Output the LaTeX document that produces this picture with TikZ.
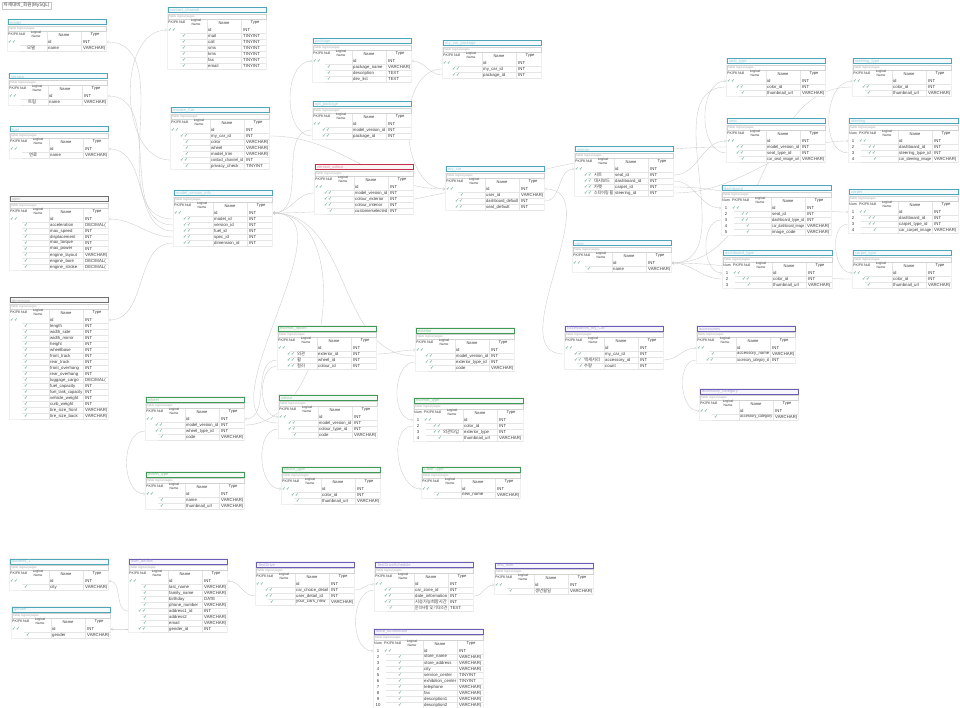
\documentclass[tikz,border=0pt]{standalone}
\usepackage{fontspec}
\setmainfont{Liberation Sans}
\newfontfamily\krfont{Noto Sans CJK KR}
\newfontfamily\symfont{DejaVu Sans}
\usetikzlibrary{arrows.meta}

\definecolor{erteal}{HTML}{4FA6BA}
\definecolor{ergray}{HTML}{6E6E6E}
\definecolor{erred}{HTML}{C0304A}
\definecolor{ergreen}{HTML}{3E9A55}
\definecolor{erpurple}{HTML}{6A5DB8}
\definecolor{ercheckc}{HTML}{2C8560}
\definecolor{ertext}{HTML}{3A3A3A}
\definecolor{erline}{HTML}{CBCBCB}

\pgfdeclarelayer{connectors}
\pgfdeclarelayer{paper}
\pgfsetlayers{connectors,paper,main}

\newcommand{\kr}[1]{{\krfont #1}}
\newsavebox{\erbox}
\newcommand{\erfit}[2]{\sbox\erbox{#2}\ifdim\wd\erbox>#1\resizebox{#1}{\height}{\usebox\erbox}\else\usebox\erbox\fi}

\tikzset{
  ercell/.style={anchor=west, inner sep=0pt, font=\fontsize{4.3}{5}\selectfont, text=ertext},
  erhead/.style={inner sep=0pt, font=\fontsize{4.1}{5}\selectfont, text=ertext},
  erkey/.style={anchor=west, inner sep=0pt, font=\fontsize{3.6}{4}\selectfont, text=ertext},
  erlogical/.style={inner sep=0pt, font=\fontsize{3.3}{3.4}\selectfont, text=ertext, align=center},
  erpages/.style={anchor=west, inner sep=0pt, font=\fontsize{3}{3}\selectfont, text=gray!70},
  ertitle/.style={anchor=west, inner sep=0pt, font=\fontsize{4}{5}\selectfont},
  ercheck/.style={anchor=west, inner sep=0pt, font=\symfont\fontsize{4.6}{4.6}\selectfont, text=ercheckc},
  ergrid/.style={draw=gray!20, line width=0.25pt},
  erbody/.style={inner sep=0pt, anchor=north west, fill=white, draw=gray!12, line width=0.25pt},
  fkline/.style={draw=erline, line width=0.35pt, -{Straight Barb[length=1.4pt,width=2.6pt]}}
}

% #1 name, #2 x, #3 y, #4 colour, #5 title, #6 numbered, #7 rows
\newcommand{\ertable}[7]{%
  \ifnum#6=1 \def\erN{10}\def\erW{110}\else\def\erN{0}\def\erW{99}\fi
  \draw[draw=#4, line width=1pt, fill=#4!6] (#2+1,#3+1) rectangle (#2+\erW,#3+6);
  \node[ertitle, text=#4!55!white] at (#2+3,#3+3.6) {#5};
  \draw[gray!35, line width=0.3pt] (#2+1,#3+7) rectangle (#2+\erW,#3+12.5);
  \node[erpages] at (#2+2,#3+9.8) {Table logical pages};
  \ifnum#6=1 \node[erkey] at (#2+1,#3+15.5) {Num};\fi
  \node[erkey] at (#2+1+\erN,#3+15.5) {PK/FK};
  \node[erkey] at (#2+11.8+\erN,#3+15.5) {Null};
  \node[erlogical] at (#2+29+\erN,#3+15.2) {Logical\\Name};
  \node[erhead] at (#2+57+\erN,#3+15.8) {Name};
  \node[erhead] at (#2+88+\erN,#3+15.8) {Type};
  \foreach \mk/\lg/\nm/\ty [count=\i] in {#7} {
    \pgfmathsetmacro\ry{#3+17+6*\i}
    \xdef\erRows{\i}
    \coordinate (#1 r\i) at (#2,\ry);
    \coordinate (#1 e\i) at (#2+\erW+1,\ry);
    \draw[ergrid] (#2+13,\ry+3) -- (#2+\erW,\ry+3);
    \ifnum#6=1 \node[ercell, anchor=center] at (#2+5,\ry) {\i};\fi
    \if p\mk \node[ercheck] at (#2+1+\erN,\ry) {✓✓};\fi
    \if f\mk \node[ercheck] at (#2+10+\erN,\ry) {✓✓};\fi
    \if n\mk \node[ercheck] at (#2+15+\erN,\ry) {✓};\fi
    \node[ercell] at (#2+\erN+20,\ry) {\erfit{19pt}{\lg}};
    \node[ercell] at (#2+\erN+41,\ry) {\erfit{32pt}{\nm}};
    \node[ercell] at (#2+\erN+76,\ry) {\ty};
  }
  \draw[ergrid] (#2+\erN+40,#3+13) -- (#2+\erN+40,#3+20+6*\erRows);
  \draw[ergrid] (#2+\erN+74,#3+13) -- (#2+\erN+74,#3+20+6*\erRows);
  \begin{pgfonlayer}{paper}
    \node[erbody, minimum width={\erW*1pt}, minimum height={(20+6*\erRows)*1pt}] (#1) at (#2,#3) {};
  \end{pgfonlayer}
}

\begin{document}
\catcode`\_=12
\begin{tikzpicture}[x=1pt,y=-1pt]
\useasboundingbox (0,0) rectangle (960,708);

\node[draw=gray!45, line width=0.3pt, inner xsep=1.5pt, inner ysep=1pt, anchor=north west,
  font=\krfont\fontsize{4.6}{5}\selectfont, text=ertext] (diagtitle) at (2,2) {차세대비_회원(MySQL)};

\ertable{tmodel}{7}{19}{erteal}{model}{0}{p//id/INT, x/\kr{모델}/name/VARCHAR(}
\ertable{tversion}{8}{73}{erteal}{version}{0}{p//id/INT, x/\kr{트림}/name/VARCHAR(}
\ertable{tfuel}{9}{126}{erteal}{fuel}{0}{p//id/INT, x/\kr{연료}/name/VARCHAR(}
\ertable{tspec}{9}{196}{ergray}{spec}{0}{p//id/INT, n//acceleration/DECIMAL(, n//max_speed/INT,
  n//displacement/INT, n//max_torque/INT, n//max_power/INT, n//engine_layout/VARCHAR(,
  n//engine_bore/DECIMAL(, n//engine_stroke/DECIMAL(}
\ertable{tdim}{9}{297}{ergray}{dimension}{0}{p//id/INT, n//length/INT, n//width_side/INT,
  n//width_mirror/INT, n//height/INT, n//wheelbase/INT, n//front_track/INT, n//rear_track/INT,
  n//front_overhang/INT, n//rear_overhang/INT, n//luggage_cargo/DECIMAL(, n//fuel_capacity/INT,
  n//fuel_tank_capacity/INT, n//vehicle_weight/INT, n//curb_weight/INT,
  n//tire_size_front/VARCHAR(, n//tire_size_back/VARCHAR(}

\ertable{tcontact}{167}{7}{erteal}{contact_channel}{0}{p//id/INT, n//mail/TINYINT, n//call/TINYINT,
  n//sms/TINYINT, n//kms/TINYINT, n//fax/TINYINT, n//email/TINYINT}
\ertable{tinvoice}{170}{107}{erteal}{Invoice_Car}{0}{p//id/INT, f//my_car_id/INT, n//color/VARCHAR(,
  n//wheel/VARCHAR(, n//model_trim/VARCHAR(, f//contact_channel_id/INT, n//privacy_check/TINYINT}
\ertable{tmvi}{173}{190}{erteal}{model_version_info}{0}{p//id/INT, f//model_id/INT, f//version_id/INT,
  f//fuel_id/INT, f//spec_id/INT, f//dimension_id/INT}

\ertable{tpackage}{312}{38}{erteal}{package}{0}{p//id/INT, n//package_name/VARCHAR(,
  n//description/TEXT, n//dev_list/TEXT}
\ertable{toptpkg}{312}{101}{erteal}{opt_package}{0}{p//id/INT, f//model_version_id/INT, f//package_id/INT}
\ertable{tvcolour}{314}{164}{erred}{version_colour}{0}{p//id/INT, f//model_version_id/INT,
  f//colour_exterior/INT, f//colour_interior/INT, n//customerselected/INT}
\ertable{tmypkg}{442}{40}{erteal}{my_car_package}{0}{p//id/INT, f//my_car_id/INT, f//package_id/INT}
\ertable{tmycar}{445}{166}{erteal}{my_car}{0}{p//id/INT, n//user_id/VARCHAR(,
  f//dashboard_default/INT, f//seat_default/INT}
\ertable{tinterior}{574}{146}{erteal}{interior}{0}{p//id/INT, f/\kr{시트}/seat_id/INT,
  f/\kr{대시보드}/dashboard_id/INT, f/\kr{카펫}/carpet_id/INT, f/\kr{스티어링 휠}/steering_id/INT}

\ertable{tseattype}{726}{58}{erteal}{seat_type}{0}{p//id/INT, f//color_id/INT, n//thumbnail_url/VARCHAR(}
\ertable{tsteertype}{852}{58}{erteal}{steering_type}{0}{p//id/INT, f//color_id/INT, n//thumbnail_url/VARCHAR(}
\ertable{tseat}{726}{118}{erteal}{seat}{0}{p//id/INT, f//model_version_id/INT, f//seat_type_id/INT,
  n//car_seat_image_url/VARCHAR(}
\ertable{tsteer}{848}{118}{erteal}{steering}{1}{p//id/INT, f//dashboard_id/INT, f//steering_type_id/INT,
  n//car_steering_image/VARCHAR(}
\ertable{tdash}{721}{185}{erteal}{dashboard}{1}{p//id/INT, f//seat_id/INT, f//dashboard_type_id/INT,
  n//car_dashboard_image/VARCHAR(, n//image_code/VARCHAR(}
\ertable{tcarpet}{848}{189}{erteal}{carpet}{1}{p//id/INT, f//dashboard_id/INT, f//carpet_type_id/INT,
  n//car_carpet_image/VARCHAR(}
\ertable{tdashtype}{722}{250}{erteal}{dashboard_type}{1}{p//id/INT, f//color_id/INT, n//thumbnail_url/VARCHAR(}
\ertable{tcarpettype}{852}{250}{erteal}{carpet_type}{0}{p//id/INT, f//color_id/INT, n//thumbnail_url/VARCHAR(}
\ertable{tcolor}{572}{240}{erteal}{color}{0}{p//id/INT, n//name/VARCHAR(}

\ertable{taccmycar}{564}{325}{erpurple}{Accessories_my_Car}{0}{p//id/INT, f//my_car_id/INT,
  f/\kr{액세서리}/accessory_id/INT, n/\kr{수량}/count/INT}
\ertable{tacc}{696}{325}{erpurple}{accessories}{0}{p//id/INT, n//accessory_name/VARCHAR(,
  f//accessory_category_id/INT}
\ertable{taccat}{699}{388}{erpurple}{accessory_category}{0}{p//id/INT, n//accessory_category/VARCHAR(}

\ertable{textopt}{277}{325}{ergreen}{exterior_option}{0}{p//id/INT, f/\kr{외관}/exterior_id/INT,
  f/\kr{휠}/wheel_id/INT, f/\kr{컬러}/colour_id/INT}
\ertable{text}{415}{327}{ergreen}{exterior}{0}{p//id/INT, f//model_version_id/INT,
  f//exterior_type_id/INT, n//code/VARCHAR(}
\ertable{twheel}{145}{396}{ergreen}{wheel}{0}{p//id/INT, f//model_version_id/INT,
  f//wheel_type_id/INT, n//code/VARCHAR(}
\ertable{tcolour}{278}{394}{ergreen}{colour}{0}{p//id/INT, f//model_version_id/INT,
  f//colour_type_id/INT, n//code/VARCHAR(}
\ertable{texttype}{413}{397}{ergreen}{exterior_type}{1}{p//id/INT, f//color_id/INT,
  f/\kr{외관타입}/exterior_type/INT, n//thumbnail_url/VARCHAR(}
\ertable{twheeltype}{145}{471}{ergreen}{wheel_type}{0}{p//id/INT, n//name/VARCHAR(, n//thumbnail_url/VARCHAR(}
\ertable{tcolourtype}{281}{466}{ergreen}{colour_type}{0}{p//id/INT, f//color_id/INT, n//thumbnail_url/VARCHAR(}
\ertable{tcolortype}{421}{466}{ergreen}{Color Type}{0}{p//id/INT, n//new_name/VARCHAR(}

\ertable{taddress}{9}{558}{erteal}{address_1}{0}{p//id/INT, n//city/VARCHAR(}
\ertable{tgender}{11}{606}{erteal}{gender}{0}{p//id/INT, n//gender/VARCHAR(}
\ertable{tuser}{128}{558}{erpurple}{user_details}{0}{p//id/INT, n//last_name/VARCHAR(,
  n//family_name/VARCHAR(, n//birthday/DATE, n//phone_number/VARCHAR(, f//address1_id/INT,
  n//address2/VARCHAR(, n//email/VARCHAR(, f//gender_id/INT}
\ertable{ttestdrive}{255}{561}{erpurple}{TestDrive}{0}{p//id/INT, f//car_choice_detail/INT,
  f//user_detail_id/INT, n//your_cars_now/VARCHAR(}
\ertable{tschedule}{374}{561}{erpurple}{TestDriveSchedule}{0}{p//id/INT, f//car_zone_id/INT,
  f//date_information/INT, f//\kr{시승가능희망시간}/INT, n//\kr{문의사항 및 기타의견}/TEXT}
\ertable{tzone}{494}{562}{erpurple}{test_user}{0}{p//id/INT, n//\kr{생년월일}/VARCHAR(}
\ertable{tstore}{373}{628}{erpurple}{store_information}{1}{p//id/INT, n//store_name/VARCHAR(,
  n//store_address/VARCHAR(, n//city/VARCHAR(, n//service_center/TINYINT,
  n//exhibition_center/TINYINT, n//telephone/VARCHAR(, n//fax/VARCHAR(,
  n//description1/VARCHAR(, n//description2/VARCHAR(}

\begin{pgfonlayer}{connectors}
\draw[fkline] (tmvi r2) to[out=180,in=0] (tmodel e1);
\draw[fkline] (tmvi r3) to[out=180,in=0] (tversion e1);
\draw[fkline] (tmvi r4) to[out=180,in=0] (tfuel e1);
\draw[fkline] (tmvi r5) to[out=180,in=0] (tspec e1);
\draw[fkline] (tmvi r6) to[out=180,in=0] (tdim e1);
\draw[fkline] (tinvoice r6) to[out=180,in=180] (tcontact r1);
\draw[fkline] (tinvoice e2) to[out=0,in=180] (tmycar r1);
\draw[fkline] (toptpkg r2) to[out=180,in=0] (tmvi e1);
\draw[fkline] (toptpkg r3) to[out=180,in=180] (tpackage r1);
\draw[fkline] (tvcolour r2) to[out=180,in=0] (tmvi e1);
\draw[fkline] (tmypkg r2) to[out=180,in=180] (tmycar r1);
\draw[fkline] (tmypkg r3) to[out=180,in=0] (tpackage e1);
\draw[fkline] (tmycar e3) to[out=0,in=180] (tinterior r1);
\draw[fkline] (tinterior e2) to[out=0,in=180] (tseat r1);
\draw[fkline] (tinterior e3) to[out=0,in=180] (tdash r1);
\draw[fkline] (tinterior e4) to[out=0,in=180] (tcarpet r1);
\draw[fkline] (tinterior e5) to[out=0,in=180] (tsteer r1);
\draw[fkline] (tseat r3) to[out=180,in=180] (tseattype r1);
\draw[fkline] (tsteer r3) to[out=180,in=180] (tsteertype r1);
\draw[fkline] (tdash r3) to[out=180,in=180] (tdashtype r1);
\draw[fkline] (tcarpet r3) to[out=180,in=180] (tcarpettype r1);
\draw[fkline] (tseattype r2) to[out=180,in=0] (tcolor e1);
\draw[fkline] (tsteertype r2) to[out=180,in=0] (tcolor e1);
\draw[fkline] (tdashtype r2) to[out=180,in=0] (tcolor e1);
\draw[fkline] (tcarpettype r2) to[out=180,in=0] (tcolor e1);
\draw[fkline] (tseat r2) to[out=180,in=0] (tmvi e1);
\draw[fkline] (taccmycar r2) to[out=180,in=0] (tmycar e1);
\draw[fkline] (taccmycar e3) to[out=0,in=180] (tacc r1);
\draw[fkline] (tacc r3) to[out=180,in=180] (taccat r1);
\draw[fkline] (textopt e2) to[out=0,in=180] (text r1);
\draw[fkline] (textopt r3) to[out=180,in=0] (twheel e1);
\draw[fkline] (textopt r4) to[out=180,in=180] (tcolour r1);
\draw[fkline] (text r2) to[out=180,in=0] (tmvi e1);
\draw[fkline] (twheel e2) to[out=0,in=0] (tmvi e1);
\draw[fkline] (tcolour r2) to[out=180,in=0] (tmvi e1);
\draw[fkline] (text r3) to[out=180,in=180] (texttype r1);
\draw[fkline] (twheel r3) to[out=180,in=180] (twheeltype r1);
\draw[fkline] (tcolour r3) to[out=180,in=180] (tcolourtype r1);
\draw[fkline] (texttype r2) to[out=180,in=180] (tcolortype r1);
\draw[fkline] (tuser r6) to[out=180,in=0] (taddress e1);
\draw[fkline] (tuser r9) to[out=180,in=0] (tgender e1);
\draw[fkline] (ttestdrive r3) to[out=180,in=0] (tuser e1);
\draw[fkline] (ttestdrive e2) to[out=0,in=180] (tschedule r1);
\draw[fkline] (tschedule r2) to[out=180,in=180] (tstore r1);
\draw[fkline] (tschedule e3) to[out=0,in=180] (tzone r1);
\end{pgfonlayer}
\end{tikzpicture}
\end{document}
